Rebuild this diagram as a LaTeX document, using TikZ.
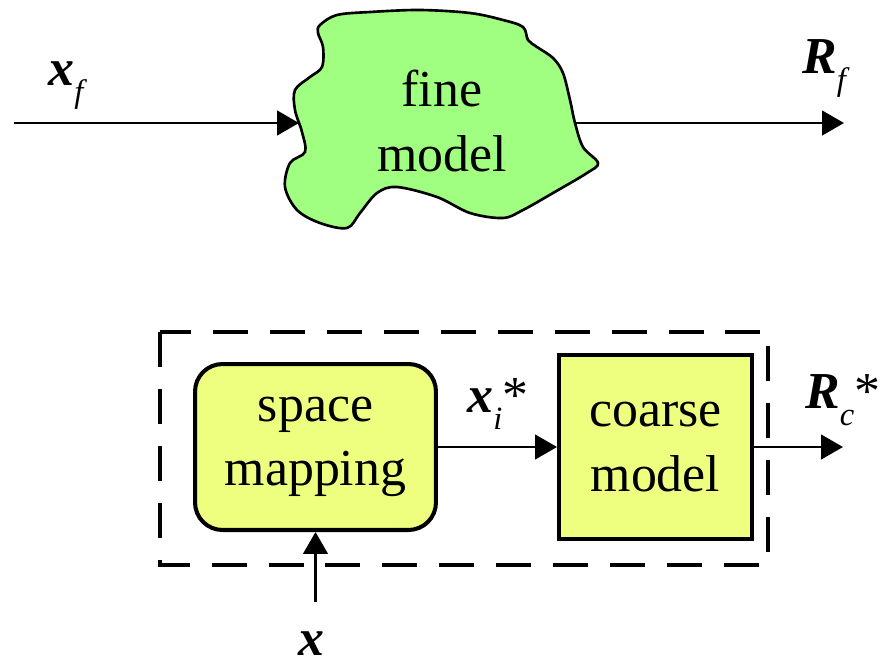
\documentclass[tikz,border=0pt]{standalone}
\usepackage{fontspec}
\setmainfont{Liberation Serif}
\usepackage{tikz}
\usetikzlibrary{arrows.meta}
\definecolor{finegreen}{RGB}{160,255,128}
\definecolor{coarseyellow}{RGB}{238,255,128}
\newcommand{\vect}[1]{{\bfseries\itshape #1}}
\newcommand{\subtxt}[1]{\raisebox{-0.34em}{\fontsize{18.5}{20}\selectfont\itshape #1}}

\begin{document}
\begin{tikzpicture}[x=0.02cm,y=-0.02cm]
\useasboundingbox (0,0) rectangle (880,667);

% outline of the fine model
\draw[line width=1.5pt,fill=finegreen] plot[smooth cycle,tension=0.55] coordinates {
    (320,25) (337,15) (370,12) (420,10) (470,13) (503,20) (523,27) (528,40)
    (537,47) (553,58) (563,73) (570,100) (575,123) (583,147) (598,163)
    (587,173) (553,193) (523,210) (503,218) (470,213) (437,197) (397,187)
    (377,193) (360,213) (347,228) (320,223) (297,210) (285,187) (290,163)
    (305,152) (302,132) (295,110) (295,90) (310,77) (322,67) (323,47) (318,33)};

% surrogate frame
\draw[line width=2.3pt,dash pattern=on 19.9pt off 12.5pt] (160,332) rectangle (768,565);

\begin{scope}[every node/.style={font=\fontsize{29.5}{36.5}\selectfont,align=center,inner sep=0pt}]
    \node (fine) at (442,121) {fine\\model};
    \node[draw,line width=2.3pt,fill=coarseyellow,rounded corners=0.55cm,
          minimum width=4.82cm,minimum height=3.32cm] (sm) at (315.5,447) {space\\mapping};
    \node[draw,line width=2.3pt,fill=coarseyellow,
          minimum width=3.86cm,minimum height=3.68cm] (cm) at (655.5,447) {coarse\\model};
\end{scope}

\begin{scope}[every node/.style={font=\fontsize{29.5}{36.5}\selectfont,inner sep=0pt,anchor=base west}]
    \node (xf lbl) at (48,85) {\vect{x}\subtxt{f}};
    \node (Rf lbl) at (802,73) {\vect{R}\subtxt{f}};
    \node (xi lbl) at (467,412) {\vect{x}\subtxt{i}*};
    \node (Rc lbl) at (805,408) {\vect{R}\subtxt{c}*};
    \node[anchor=base] (x lbl) at (311,655) {\vect{x}};
\end{scope}

\begin{scope}[>={Triangle[length=12.5pt,width=14pt]},
              every edge/.style={draw=black,line width=1.5pt}]
    \coordinate (xf in) at (14,123);
    \coordinate (fine in) at (299,123);
    \coordinate (fine out) at (575,123);
    \coordinate (Rf out) at (844,123);
    \coordinate (Rc out) at (843,447);
    \coordinate (x in) at (315.5,602);
    \path [->] (xf in) edge (fine in)
               (fine out) edge (Rf out)
               (sm) edge (cm)
               (cm) edge (Rc out)
               (x in) edge (sm);
\end{scope}
\end{tikzpicture}
\end{document}
